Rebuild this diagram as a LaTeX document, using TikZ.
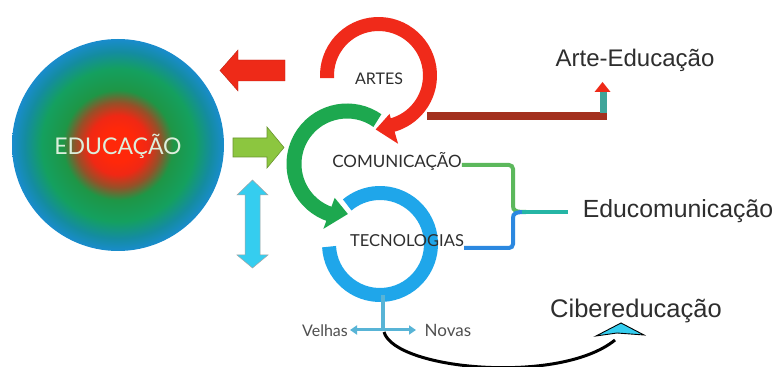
\documentclass[tikz,border=0pt]{standalone}
\usepackage{fontspec}
\setmainfont{Lato}
\newfontfamily\arialf{Liberation Sans}
\usetikzlibrary{arrows.meta}
\definecolor{ringred}{HTML}{F02A1A}
\definecolor{ringgreen}{HTML}{1DA84F}
\definecolor{ringblue}{HTML}{1FA6EA}
\definecolor{brownline}{HTML}{A3301E}
\definecolor{brgreen}{HTML}{5CB85C}
\definecolor{brblue}{HTML}{2B88E0}
\definecolor{brteal}{HTML}{25B5A5}
\definecolor{txtgray}{HTML}{2E2E2E}
\definecolor{lightgray}{HTML}{505050}
\definecolor{arrowred}{HTML}{EE2A18}
\definecolor{arrowgreen}{HTML}{8CC63F}
\definecolor{arrowcyan}{HTML}{35CDEF}
\definecolor{hcyan}{HTML}{58B4D6}
\definecolor{eduwhite}{HTML}{DCEFDC}
\definecolor{cA}{RGB}{255,40,10}
\definecolor{cB}{RGB}{240,40,20}
\definecolor{cC}{RGB}{150,80,40}
\definecolor{cD}{RGB}{30,150,70}
\definecolor{cE}{RGB}{20,160,95}
\definecolor{cF}{RGB}{20,140,160}
\definecolor{cG}{RGB}{25,140,205}
\pgfdeclareradialshading{edushade}{\pgfpoint{0bp}{0bp}}{color(0bp)=(cA); color(4bp)=(cA); color(7bp)=(cB); color(10bp)=(cC); color(13bp)=(cD); color(18bp)=(cE); color(22bp)=(cF); color(25bp)=(cG); color(50bp)=(cG)}
\tikzset{
  inlabel/.style={text=txtgray, inner sep=0pt, anchor=base, font=\fontsize{16}{18}\selectfont},
  outlabel/.style={text=txtgray, inner sep=0pt, anchor=base, font=\arialf\fontsize{24}{27}\selectfont},
  smlabel/.style={text=lightgray, inner sep=0pt, anchor=base, font=\fontsize{16}{18}\selectfont},
  ringline/.style={line width=14pt},
}
\begin{document}
\begin{tikzpicture}[x=1pt,y=1pt]
\useasboundingbox (0,0) rectangle (777,367);
\fill[white] (0,0) rectangle (777,367);
% big circle
\shade[shading=edushade] (118,222) circle[radius=106];
\node[inlabel, text=eduwhite, font=\fontsize{23}{26}\selectfont] (edu) at (118,212) {EDUCAÇÃO};
% left arrows
\fill[arrowred, draw=arrowred!80!black, line width=0.4pt] (285,307) -- (238,307) -- (238,317) -- (220,296.5) -- (238,276) -- (238,286) -- (285,286) -- cycle;
\fill[arrowgreen, draw=arrowgreen!75!black, line width=0.6pt] (233,229) -- (267,229) -- (267,240) -- (284,219.5) -- (267,199) -- (267,210) -- (233,210) -- cycle;
\fill[arrowcyan, draw=gray!70, line width=0.5pt] (252.5,187) -- (268,172) -- (260,172) -- (260,112) -- (268,112) -- (252.5,99) -- (237,112) -- (245,112) -- (245,172) -- (237,172) -- cycle;
% brown line to Arte-Educacao
\coordinate (bl0) at (427,251);
\coordinate (bl1) at (607,251);
\coordinate (st0) at (603,254);
\coordinate (st1) at (603,275);
\draw[brownline, line width=8pt] (bl0) -- (bl1);
\draw[brteal!70!gray, line width=7pt] (st0) -- (st1);
\fill[arrowred] (594.5,275) -- (602.5,285) -- (610.5,275) -- cycle;
% blue ring
\coordinate (cB) at (380,123);
\draw[ringblue, ringline] (cB) ++(183:51) arc[start angle=183, end angle=490, radius=51];
% green ring
\coordinate (cGr) at (347,203);
\draw[ringgreen, line width=15pt] (cGr) ++(55:53) arc[start angle=55, end angle=252, radius=53];
\fill[ringgreen] ([shift={(cGr)}]250:36) -- ([shift={(cGr)}]250:69) -- ([shift={(cGr)}]271:50) -- cycle;
% red ring
\coordinate (cR) at (378.5,291.5);
\draw[ringred, ringline] (cR) ++(183:51.5) arc[start angle=183, end angle=-76, radius=51.5];
\fill[ringred] ([shift={(cR)}]-74:40) -- ([shift={(cR)}]-74:71) -- ([shift={(cR)}]-93:54) -- cycle;
% inner labels
\node[inlabel] (artes) at (379,282) {ARTES};
\node[inlabel, font=\fontsize{17}{19}\selectfont] (comun) at (397,199) {COMUNICAÇÃO};
\node[inlabel, font=\fontsize{16.5}{18}\selectfont] (tecno) at (407,120) {TECNOLOGIAS};
% outer labels
\node[outlabel] (arteedu) at (635,300) {Arte-Educação};
\node[outlabel, font=\arialf\fontsize{24.8}{27}\selectfont] (educom) at (678,149) {Educomunicação};
\node[outlabel, font=\arialf\fontsize{25.5}{28}\selectfont] (ciber) at (636,49) {Cibereducação};
% bracket
\coordinate (brmid) at (526,155);
\coordinate (brend) at (568,155);
\draw[brgreen, line width=4pt, rounded corners=4pt] ([yshift=3pt]comun.base east) -| (513,165) .. controls (513,156) and (516,155) .. (brmid);
\draw[brblue, line width=4pt, rounded corners=4pt] ([yshift=-1pt]tecno.base east) -| (513,145) .. controls (513,154) and (516,155) .. (brmid);
\draw[brteal, line width=4pt] ([xshift=-4pt]brmid) -- (brend);
% Velhas / Novas
\node[smlabel] (velhas) at (325,30) {Velhas};
\node[smlabel, font=\fontsize{17}{19}\selectfont] (novas) at (448,30) {Novas};
\coordinate (stemtop) at (382.5,72);
\coordinate (stembot) at (382.5,37);
\coordinate (hl) at (350,37);
\coordinate (hr) at (416,37);
\draw[hcyan, line width=4pt] (stemtop) -- (stembot);
\draw[hcyan, line width=3pt, {Triangle[width=9pt,length=7pt]}-{Triangle[width=9pt,length=7pt]}] (hl) -- (hr);
% black curve to Cibereducacao
\coordinate (cv0) at (384,35);
\coordinate (cv1) at (615,27);
\draw[black, line width=3pt] (cv0) .. controls (395,-3) and (560,-18) .. (cv1);
\filldraw[fill=arrowcyan, draw=black, line width=0.9pt] (596,31) -- (621,44) -- (644,32) -- (617,34) -- cycle;
\end{tikzpicture}
\end{document}
